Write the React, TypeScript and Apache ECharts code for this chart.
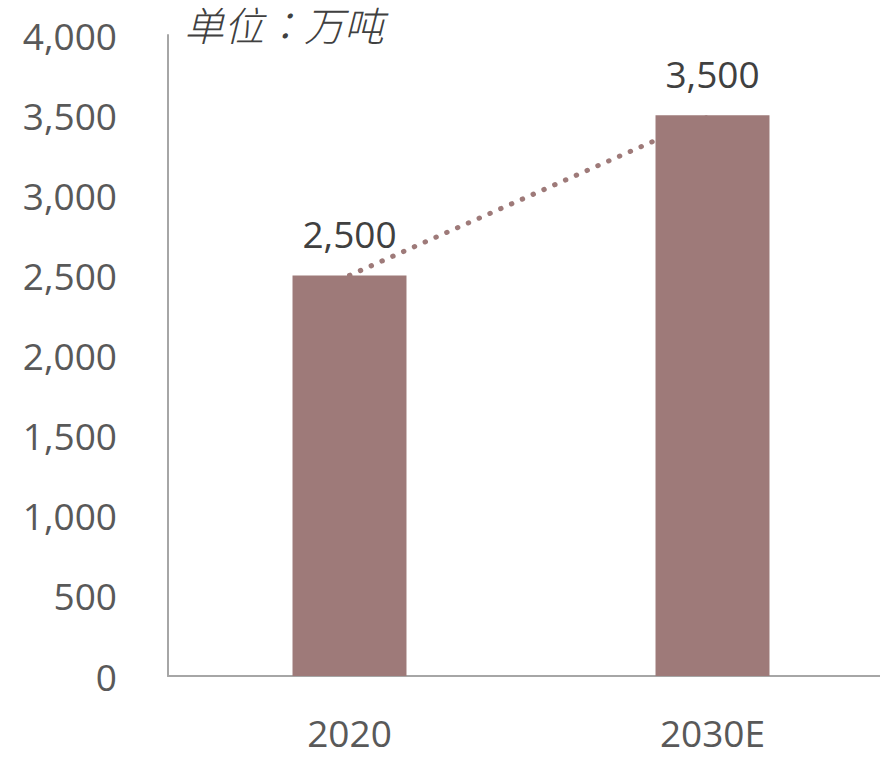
import React, { useEffect, useRef } from 'react';
import * as echarts from 'echarts';
import type { EChartsOption } from 'echarts';

const categories = ['2020', '2030E'];
const values = [2500, 3500];
const yTicks = { min: 0, max: 4000, interval: 500 };
const unitLabel = '单位：万吨';

const barColor = '#9E7A79';
const textColor = '#595959';
const fontFamily = '"Open Sans", "Noto Sans CJK SC", sans-serif';

const fmt = (v: number) => v.toLocaleString('en-US');

const App: React.FC = () => {
  const chartRef = useRef<HTMLDivElement>(null);

  useEffect(() => {
    document.body.style.margin = '0';
    document.body.style.overflow = 'hidden';
    if (!chartRef.current) return;
    const chart = echarts.init(chartRef.current, undefined, { renderer: 'svg' });

    const option: EChartsOption = {
      animation: false,
      backgroundColor: '#ffffff',
      textStyle: { fontFamily },
      // the category axis runs past the right edge of the window
      grid: { left: 168, top: 35, width: 726, height: 641 },
      graphic: [
        {
          type: 'text',
          left: 184,
          top: 4,
          style: {
            text: unitLabel,
            fill: '#404040',
            fontSize: 40,
            fontWeight: 300,
            fontStyle: 'italic',
            fontFamily: '"Noto Sans CJK TC", "Noto Sans CJK SC", sans-serif',
          },
        },
      ],
      xAxis: {
        type: 'category',
        data: categories,
        axisLine: { show: true, lineStyle: { color: '#A6A6A6', width: 2 } },
        axisTick: { show: false },
        axisLabel: { color: textColor, fontSize: 37, margin: 38, fontFamily },
      },
      yAxis: {
        type: 'value',
        min: yTicks.min,
        max: yTicks.max,
        interval: yTicks.interval,
        axisLine: { show: true, lineStyle: { color: '#A6A6A6', width: 2 } },
        axisTick: { show: false },
        splitLine: { show: false },
        axisLabel: {
          color: textColor,
          fontSize: 37,
          margin: 51,
          padding: [0, 0, 6, 0],
          fontFamily,
          formatter: (v: number) => fmt(v),
        },
      },
      series: [
        {
          type: 'line',
          data: values,
          symbol: 'none',
          z: 1,
          lineStyle: { color: barColor, width: 5, type: [0.5, 11.3], cap: 'round' },
        },
        {
          type: 'bar',
          data: values,
          barWidth: '31.4%',
          z: 2,
          itemStyle: { color: barColor },
          label: {
            show: true,
            position: 'top',
            distance: 23,
            color: '#404040',
            fontSize: 37,
            fontFamily,
            formatter: (p: any) => fmt(p.value),
          },
        },
      ],
    };

    chart.setOption(option);
    return () => chart.dispose();
  }, []);

  return (
    <div style={{ width: 880, height: 766, overflow: 'hidden' }}>
      <div ref={chartRef} style={{ width: 900, height: 766 }} />
    </div>
  );
};

export default App;
